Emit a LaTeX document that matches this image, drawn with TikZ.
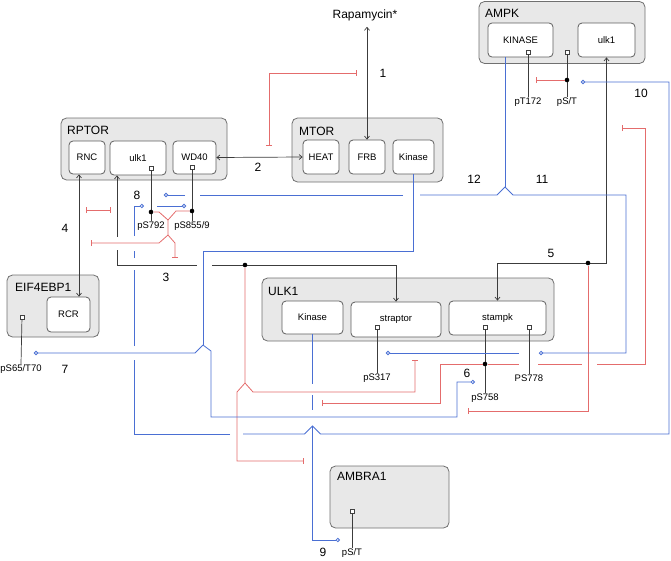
\documentclass[tikz,border=0pt]{standalone}
\usepackage{fontspec}
\setmainfont{Liberation Sans}
\usetikzlibrary{arrows.meta}
\definecolor{boxfill}{HTML}{E8E8E8}
\definecolor{boxline}{HTML}{707070}
\definecolor{lnk}{HTML}{3C3C3C}
\definecolor{phosblue}{HTML}{4A6FD3}
\definecolor{inhred}{HTML}{E46C6C}
\begin{document}
\begin{tikzpicture}[x=1pt,y=-1pt,
  mainbox/.style={draw=boxline, fill=boxfill, rounded corners=5.5pt, line width=0.8pt, inner sep=0pt},
  subbox/.style={draw=boxline!85!black, fill=white, rounded corners=4pt, line width=0.8pt, inner sep=0pt, font=\fontsize{9.5}{10}\selectfont},
  boxtitle/.style={anchor=west, inner sep=0pt, font=\fontsize{12}{12}\selectfont},
  psite/.style={draw=black!75, fill=white, minimum size=3.6pt, inner sep=0pt, line width=0.6pt},
  plabel/.style={inner sep=0.5pt, font=\fontsize{9.5}{10}\selectfont},
  numlbl/.style={inner sep=0pt, font=\fontsize{12}{12}\selectfont},
  blk/.style={draw=lnk, line width=0.7pt},
  btip/.style={blk, -{Straight Barb[length=3pt,width=5pt]}},
  bi/.style={blk, {Straight Barb[length=3pt,width=5pt]}-{Straight Barb[length=3pt,width=5pt]}},
  bline/.style={draw=phosblue, line width=0.8pt},
  pend/.style={bline, -{Circle[open,length=4.2pt,width=4.2pt]}},
  pstart/.style={bline, {Circle[open,length=4.2pt,width=4.2pt]}-},
  inhib/.style={draw=inhred, line width=0.8pt},
  ibar/.style={inhib, -{Bar[width=6pt,line width=0.8pt]}},
  ibars/.style={inhib, {Bar[width=6pt,line width=0.8pt]}-{Bar[width=6pt,line width=0.8pt]}},
  jdot/.style={circle, fill=black, minimum size=4.6pt, inner sep=0pt}
]
\useasboundingbox (0,0) rectangle (671,560);

% ---------- boxes ----------
\node[mainbox, minimum width=166pt, minimum height=62pt] (ampk) at (562,32.5) {};
\node[boxtitle] (ampkT) at (485,13) {AMPK};
\node[subbox, minimum width=65pt, minimum height=34pt] (ampkK) at (520.5,40) {KINASE};
\node[subbox, minimum width=57pt, minimum height=34pt] (ampkU) at (606.5,40) {ulk1};

\node[mainbox, minimum width=166pt, minimum height=62pt] (rptor) at (144,149) {};
\node[boxtitle] (rptorT) at (67,130) {RPTOR};
\node[subbox, minimum width=36pt, minimum height=33pt] (rnc) at (87,157.5) {RNC};
\node[subbox, minimum width=56pt, minimum height=34pt] (ulkR) at (138,158) {ulk1};
\node[subbox, minimum width=43pt, minimum height=33pt] (wd40) at (194.5,157.5) {WD40};

\node[mainbox, minimum width=151pt, minimum height=64pt] (mtor) at (367.5,150) {};
\node[boxtitle] (mtorT) at (299,131) {MTOR};
\node[subbox, minimum width=36pt, minimum height=34pt] (heat) at (321,157) {HEAT};
\node[subbox, minimum width=36pt, minimum height=34pt] (frb) at (367,157) {FRB};
\node[subbox, minimum width=41pt, minimum height=34pt] (kinM) at (413.5,157) {Kinase};

\node[mainbox, minimum width=92pt, minimum height=62pt] (eif) at (53,306) {};
\node[boxtitle] (eifT) at (15,287) {EIF4EBP1};
\node[subbox, minimum width=43pt, minimum height=35pt] (rcr) at (68.5,314.5) {RCR};

\node[mainbox, minimum width=292pt, minimum height=63pt] (ulk) at (408,309.5) {};
\node[boxtitle] (ulkT) at (268,291) {ULK1};
\node[subbox, minimum width=61pt, minimum height=33pt] (kinU) at (312.5,317.5) {Kinase};
\node[subbox, minimum width=90pt, minimum height=35pt] (strap) at (396,319.5) {straptor};
\node[subbox, minimum width=97pt, minimum height=34pt] (stampk) at (497.5,318) {stampk};

\node[mainbox, minimum width=119pt, minimum height=62pt] (ambra) at (389.5,497) {};
\node[boxtitle] (ambraT) at (337,476) {AMBRA1};

% ---------- phospho sites ----------
\node[psite] (sT172) at (528,52) {};
\node[psite] (sAST) at (567,52) {};
\node[psite] (s792) at (151,168) {};
\node[psite] (s855) at (192,167) {};
\node[psite] (s65) at (22,317) {};
\node[psite] (s317) at (377,327) {};
\node[psite] (s758) at (485,327) {};
\node[psite] (s778) at (529,327) {};
\node[psite] (sAmb) at (352,511) {};

\node[plabel] (lT172) at (528,102) {pT172};
\node[plabel] (lAST) at (567,102) {pS/T};
\node[plabel] (l792) at (151,226) {pS792};
\node[plabel] (l855) at (192,226) {pS855/9};
\node[plabel] (l65) at (21,369) {pS65/T70};
\node[plabel] (l317) at (377,378) {pS317};
\node[plabel] (l758) at (485,398) {pS758};
\node[plabel] (l778) at (529,378) {PS778};
\node[plabel] (lAmb) at (352,553) {pS/T};

\draw[blk] (sT172) -- (lT172.north);
\draw[blk] (sAST) -- (lAST.north);
\draw[blk] (s792) -- (l792.north);
\draw[blk] (s855) -- (l855.north);
\draw[blk] (s65) -- (l65.north);
\draw[blk] (s317) -- (l317.north);
\draw[blk] (s758) -- (l758.north);
\draw[blk] (s778) -- (l778.north);
\draw[blk] (sAmb) -- (lAmb.north);

% ---------- black interaction lines ----------
\node[inner sep=1pt, font=\fontsize{12}{12}\selectfont] (rapa) at (365,15) {Rapamycin*};
\draw[bi, shorten <=5pt] (rapa.south -| frb.north) -- (frb.north);
\draw[bi] (wd40.east) -- (heat.west);
\draw[bi] ([xshift=-8pt]rnc.south) -- ([xshift=-8pt]rnc.south |- rcr.north);
% line 3
\coordinate (c3a) at (117,237);
\coordinate (c3b) at (117,250);
\coordinate (c3c) at (117,265);
\coordinate (c3d) at (197,265);
\coordinate (c3e) at (212,265);
\draw[blk, {Straight Barb[length=3pt,width=5pt]}-] ([xshift=-21pt]ulkR.south) -- (c3a);
\draw[blk] (c3b) -- (c3c) -- (c3d);
\draw[btip] (c3e) -- (strap.north |- c3e) -- (strap.north);
\node[jdot] (d3) at (245,265) {};
% line 5
\coordinate (c5) at (606.5,263);
\draw[bi] (ampkU.south) -- (c5) -- (stampk.north |- c5) -- (stampk.north);
\node[jdot] (d5) at (588,263) {};

% dots on phospho lines
\node[jdot] (d792) at (151,212) {};
\node[jdot] (d855) at (192,211) {};
\node[jdot] (dAST) at (567,80) {};
\node[jdot] (d758) at (485,364) {};

% ---------- red inhibition lines ----------
\draw[ibars] (357,73) -- (269,73) -- (269,146);
\draw[ibars] (86,210) -- (111,210);
\draw[inhib] (d792) -- (159,212) -- (168,220);
\draw[inhib] (d855) -- (176,211) -- (168,220);
\draw[ibar] (168,220) -- (168,235) -- (159,243) -- (91,243);
\draw[ibar] (168,235) -- (175,243) -- (175,258);
\draw[ibar] (d3) -- (245,383) -- (237,392) -- (237,461) -- (304,461);
\draw[ibar] (245,383) -- (253,392) -- (415,392) -- (415,360);
\draw[ibar] (d758) -- (440,364) -- (440,403) -- (322,403);
\draw[inhib] (d758) -- (519,364);
\draw[inhib] (538,364) -- (582,364);
\draw[ibar] (597,364) -- (645,364) -- (645,128) -- (622,128);
\draw[ibar] (d5) -- (588,411) -- (468,411);
\draw[ibar] (dAST) -- (536,80);

% ---------- blue phosphorylation lines ----------
% AMPK kinase (11, 12)
\draw[bline] ([xshift=-15.5pt]ampkK.south) -- (505,187);
\draw[bline] (505,187) -- (497,195) -- (420,195);
\draw[bline] (403,195) -- (200,195);
\draw[pend] (185,195) -- (163.9,195);
\draw[pend] (505,187) -- (513,195) -- (626,195) -- (626,353) -- (538.9,353);
\draw[pend] (519,353) -- (385.9,353);
% MTOR kinase (7, 6)
\draw[bline] (kinM.south) -- (kinM.south |- 0,251) -- (203,251) -- (203,345);
\draw[pend] (203,345) -- (195,353) -- (33.9,353);
\draw[pend] (203,345) -- (211,351) -- (211,417) -- (457,417) -- (457,382) -- (474.9,382);
% ULK1 kinase (9)
\draw[bline] (kinU.south) -- (312.5,384);
\draw[bline] (312.5,395) -- (312.5,410);
\draw[pend] (312.5,426) -- (312.5,540) -- (339.9,540);
% AMPK pS/T (10)
\draw[pstart] (580.9,82) -- (669,82) -- (669,434) -- (320.5,434) -- (312.5,426) -- (304.5,434) -- (243,434);
\draw[bline] (230,434) -- (134,434) -- (134,360);
\draw[bline] (134,346) -- (134,270);
\draw[bline] (134,258) -- (134,251);
\draw[pend] (134,236) -- (134,206) -- (143.9,206);
\draw[pend] (157,206) -- (186.1,206);

% ---------- numbers ----------
\node[numlbl] (n1) at (383,73) {1};
\node[numlbl] (n2) at (258,167) {2};
\node[numlbl] (n3) at (166,277) {3};
\node[numlbl] (n4) at (65,228) {4};
\node[numlbl] (n5) at (551,253) {5};
\node[numlbl] (n6) at (467,373) {6};
\node[numlbl] (n7) at (65,369) {7};
\node[numlbl] (n8) at (137,195) {8};
\node[numlbl] (n9) at (323,552) {9};
\node[numlbl] (n10) at (641,93) {10};
\node[numlbl] (n11) at (542,179) {11};
\node[numlbl] (n12) at (474,179) {12};
\end{tikzpicture}
\end{document}
